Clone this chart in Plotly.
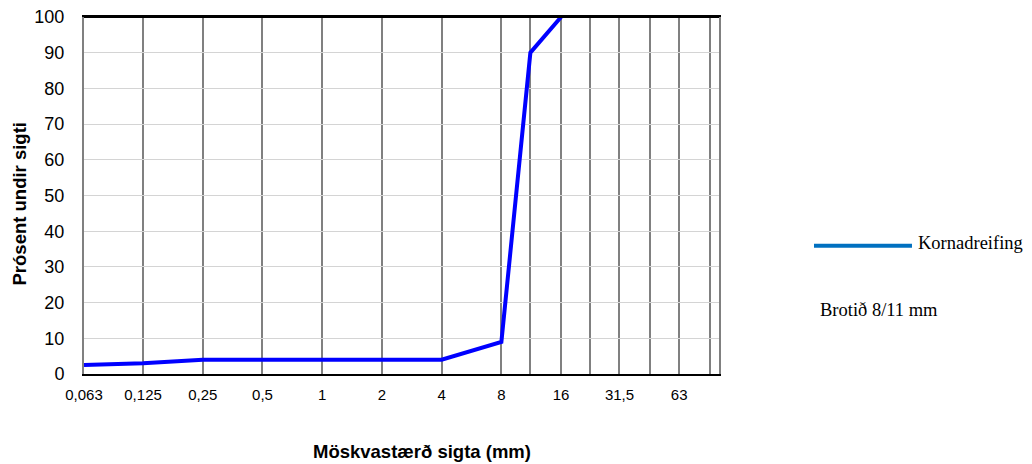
import plotly.graph_objects as go

# Data
sieve_mm = [0.063, 0.125, 0.25, 0.5, 1, 2, 4, 8, 11.2, 16]
passing_pct = [2.5, 3, 4, 4, 4, 4, 4, 9, 90, 100]

grid_vals = [0.063, 0.125, 0.25, 0.5, 1, 2, 4, 8, 11.2, 16, 22.4, 31.5, 45, 63, 90]
grid_text = ["0,063", "0,125", "0,25", "0,5", "1", "2", "4", "8", "", "16", "", "31,5", "", "63", ""]
y_ticks = [0, 10, 20, 30, 40, 50, 60, 70, 80, 90, 100]

series_name = "Kornadreifing"
note_text = "Brotið 8/11 mm"
x_title = "Möskvastærð sigta (mm)"
y_title = "Prósent undir sigti"

SANS = "Liberation Sans, Arial, sans-serif"
SERIF = "Liberation Serif, Times New Roman, serif"

fig = go.Figure()
fig.add_trace(go.Scatter(
    x=sieve_mm, y=passing_pct, mode="lines",
    line=dict(color="#0000FF", width=4),
    showlegend=False, name=series_name,
))

fig.update_layout(
    width=1032, height=464,
    margin=dict(l=84, r=313, t=17, b=90),
    paper_bgcolor="white", plot_bgcolor="white",
    showlegend=False,
    xaxis=dict(
        type="log", automargin=False,
        range=[-1.2006594505464183, 2.0],
        tickmode="array", tickvals=grid_vals, ticktext=grid_text,
        showgrid=True, gridcolor="#808080", gridwidth=2.2,
        showline=True, linecolor="black", linewidth=2, mirror=True,
        ticks="", ticklabelstandoff=6,
        tickfont=dict(family=SANS, size=15, color="black"),
        zeroline=False,
    ),
    yaxis=dict(
        range=[0, 100], automargin=False,
        tickmode="array", tickvals=y_ticks,
        showgrid=True, gridcolor="#d4d4d4", gridwidth=1,
        showline=True, linecolor="#808080", linewidth=2, mirror=True,
        ticks="", ticklabelstandoff=14,
        tickfont=dict(family=SANS, size=18, color="black"),
        zeroline=False,
    ),
)

# top border at 100 in black
fig.add_shape(type="line", xref="paper", yref="y", x0=0, x1=1, y0=100, y1=100,
              line=dict(color="black", width=2))

# legend sample line and labels
fig.add_shape(type="line", xref="paper", yref="paper", x0=1.1496, x1=1.3039,
              y0=0.3594, y1=0.3594, line=dict(color="#0070C0", width=4))
fig.add_annotation(xref="paper", yref="paper", x=1.3102, y=0.367, xanchor="left",
                   yanchor="middle", showarrow=False, text=series_name,
                   font=dict(family=SERIF, size=18.5, color="black"))
fig.add_annotation(xref="paper", yref="paper", x=1.156, y=0.1793, xanchor="left",
                   yanchor="middle", showarrow=False, text=note_text,
                   font=dict(family=SERIF, size=18.5, color="black"))

# axis titles
fig.add_annotation(xref="paper", yref="paper", x=0.533, y=-0.2176, xanchor="center",
                   yanchor="middle", showarrow=False, text="<b>" + x_title + "</b>",
                   font=dict(family=SANS, size=18.5, color="black"))
fig.add_annotation(xref="paper", yref="paper", x=-0.1008, y=0.4776, xanchor="center",
                   yanchor="middle", showarrow=False, text="<b>" + y_title + "</b>",
                   textangle=-90, font=dict(family=SANS, size=18.5, color="black"))

fig.write_html("out.html", config={"displayModeBar": False},
               post_script="document.body.style.margin='0';")
